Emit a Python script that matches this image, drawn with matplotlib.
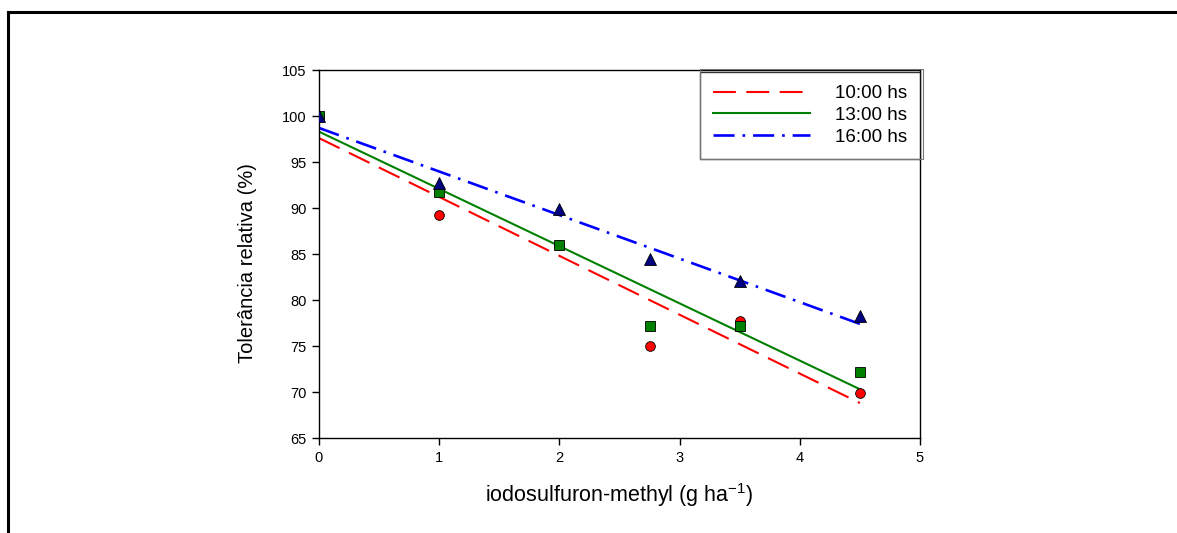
import matplotlib
matplotlib.use("Agg")
import matplotlib.pyplot as plt
from matplotlib.lines import Line2D
from matplotlib.patches import Rectangle

plt.rcParams["font.family"] = ["Liberation Sans", "DejaVu Sans"]
plt.rcParams["mathtext.default"] = "regular"

# observed points
dose = [0, 1, 2, 2.75, 3.5, 4.5]
t10 = [100, 89.2, 86.0, 75.0, 77.7, 69.9]
t13 = [100, 91.7, 86.0, 77.2, 77.2, 72.2]
t16 = [100, 92.7, 89.9, 84.5, 82.1, 78.3]

# fitted regression lines (endpoints)
fit_x = [0, 4.5]
fit10 = [97.6, 68.8]
fit13 = [98.3, 70.3]
fit16 = [98.7, 77.4]

labels = ["10:00 hs", "13:00 hs", "16:00 hs"]

W, H = 1177, 533
fig = plt.figure(figsize=(W / 100, H / 100), dpi=100)
ax = fig.add_axes([319 / W, 1 - 438 / H, 601 / W, 368 / H])

l1, = ax.plot(fit_x, fit10, color="red", lw=1.5, dashes=(11, 5))
l2, = ax.plot(fit_x, fit13, color="green", lw=1.5)
l3, = ax.plot(fit_x, fit16, color="blue", lw=1.9, dashes=(8, 3, 1, 3))

mk = dict(ls="none", markeredgecolor="black", markeredgewidth=0.6, zorder=5)
ax.plot(dose, t10, marker="o", color="red", ms=7, **mk)
ax.plot(dose, t13, marker="s", color="green", ms=7, **mk)
ax.plot(dose, t16, marker="^", color="#000080", ms=8, **mk)

ax.set_xlim(0, 5)
ax.set_ylim(65, 105)
ax.set_xticks(range(0, 6))
ax.set_yticks(range(65, 106, 5))
ax.tick_params(direction="out", length=5, width=1, labelsize=10.5, pad=4,
               top=False, right=False)
for s in ax.spines.values():
    s.set_linewidth(1)
ax.set_xlabel("iodosulfuron-methyl (g ha$^{-1}$)", fontsize=15.5)
ax.xaxis.set_label_coords(0.5, -0.118)
ax.set_ylabel("Tolerância relativa (%)", fontsize=14.5)
ax.yaxis.set_label_coords(-0.103, 0.476)

leg = ax.legend([l1, l2, l3], labels, loc="upper right", bbox_to_anchor=(1.0, 0.9946),
                fontsize=13.5, handlelength=5.2, handletextpad=1.3, fancybox=False,
                borderaxespad=0, borderpad=0.7, labelspacing=0.25)
leg.get_frame().set_edgecolor("black")
leg.get_frame().set_linewidth(1)

# second (offset) border around legend, top and right
fig.canvas.draw()
bb = leg.get_window_extent().transformed(fig.transFigure.inverted())
fig.add_artist(Rectangle((bb.x0, bb.y0), bb.width + 3 / W, bb.height + 3 / H,
                         transform=fig.transFigure, fill=False, edgecolor="#777777", lw=0.8))

# page frame
fig.add_artist(Line2D([8 / W, 1], [1 - 12 / H, 1 - 12 / H], color="black", lw=2.2,
                      transform=fig.transFigure))
fig.add_artist(Line2D([8 / W, 8 / W], [0, 1 - 12 / H], color="black", lw=2.2,
                      transform=fig.transFigure))

fig.savefig("out.png", dpi=100)
